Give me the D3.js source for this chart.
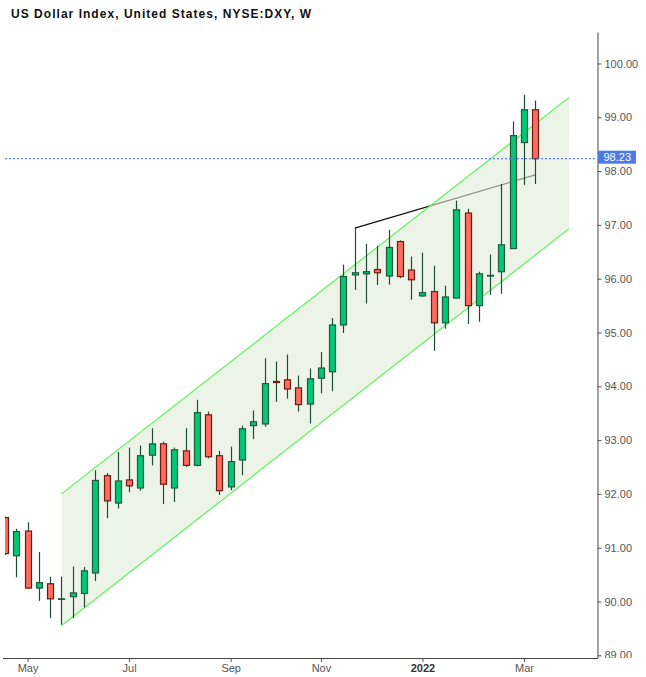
<!DOCTYPE html>
<html>
<head>
<meta charset="utf-8">
<script src="https://cdn.jsdelivr.net/npm/d3@7"></script>
<style>
  html, body { margin: 0; padding: 0; background: #fff; }
  svg { display: block; font-family: "Liberation Sans", Arial, sans-serif; }
</style>
</head>
<body>
<svg id="chart" width="646" height="677"></svg>
<script>
// ---- data (weekly candles) ----
const dates = [
  "2021-04-19","2021-04-26","2021-05-03","2021-05-10","2021-05-17","2021-05-24","2021-05-31","2021-06-07",
  "2021-06-14","2021-06-21","2021-06-28","2021-07-05","2021-07-12","2021-07-19","2021-07-26","2021-08-02",
  "2021-08-09","2021-08-16","2021-08-23","2021-08-30","2021-09-06","2021-09-13","2021-09-20","2021-09-27",
  "2021-10-04","2021-10-11","2021-10-18","2021-10-25","2021-11-01","2021-11-08","2021-11-15","2021-11-22",
  "2021-11-29","2021-12-06","2021-12-13","2021-12-20","2021-12-27","2022-01-03","2022-01-10","2022-01-17",
  "2022-01-24","2022-01-31","2022-02-07","2022-02-14","2022-02-21","2022-02-28","2022-03-07","2022-03-14"
];
const opens = [
  91.56, 90.85, 91.31, 90.25, 90.33, 90.05, 90.09, 90.15,
  90.53, 92.34, 91.83, 92.26, 92.11, 92.72, 92.93, 92.11,
  92.80, 92.53, 93.47, 92.71, 92.13, 92.63, 93.27, 93.30,
  94.09, 94.12, 93.97, 93.67, 94.15, 94.27, 95.14, 96.07,
  96.09, 96.17, 96.05, 96.69, 96.16, 95.68, 95.76, 95.18,
  95.64, 97.22, 95.50, 96.05, 96.13, 96.56, 98.53, 99.14
];
const highs = [
  91.58, 91.35, 91.47, 90.92, 90.46, 90.46, 90.65, 90.64,
  92.44, 92.39, 92.78, 92.86, 92.90, 93.22, 92.97, 92.86,
  93.22, 93.75, 93.53, 92.80, 92.88, 93.27, 93.55, 94.52,
  94.46, 94.59, 94.20, 94.33, 94.64, 95.27, 96.26, 96.94,
  96.65, 96.61, 96.91, 96.71, 96.41, 96.48, 96.24, 95.87,
  97.45, 97.30, 96.13, 96.45, 97.76, 98.92, 99.42, 99.31
];
const lows = [
  90.87, 90.45, 90.23, 90.01, 89.69, 89.57, 89.69, 89.89,
  90.38, 91.55, 91.73, 92.03, 92.06, 92.53, 91.81, 91.85,
  92.50, 92.51, 92.66, 91.98, 92.07, 92.35, 93.02, 93.25,
  93.71, 93.77, 93.53, 93.31, 93.87, 93.91, 94.99, 95.79,
  95.54, 95.88, 95.89, 96.01, 95.61, 95.66, 94.66, 95.07,
  95.64, 95.16, 95.20, 95.70, 95.72, 96.56, 97.74, 97.76
];
const closes = [
  90.89, 91.30, 90.25, 90.35, 90.05, 90.05, 90.16, 90.57,
  92.25, 91.87, 92.24, 92.15, 92.71, 92.93, 92.18, 92.82,
  92.53, 93.51, 92.69, 92.06, 92.60, 93.21, 93.34, 94.05,
  94.07, 93.95, 93.66, 94.14, 94.34, 95.14, 96.04, 96.11,
  96.13, 96.11, 96.58, 96.04, 95.98, 95.74, 95.18, 95.66,
  97.28, 95.50, 96.09, 96.06, 96.63, 98.66, 99.14, 98.23
];
const priceTicks = [89, 90, 91, 92, 93, 94, 95, 96, 97, 98, 99, 100];
const monthTickDates = ["2021-05-03","2021-07-05","2021-09-06","2021-11-01","2022-01-03","2022-03-07"];
const monthTickLabels = ["May","Jul","Sep","Nov","2022","Mar"];
// parallel channel (bar index, value)
const channelIdx = [5, 50];
const channelUpper = [92.0, 99.37];
const channelLower = [89.55, 96.93];
// trend line drawing (bar index, value)
const trendIdx = [31, 47];
const trendVal = [96.94, 97.93];
const lastPrice = 98.23;
const title = "US Dollar Index, United States, NYSE:DXY, W";

// ---- layout ----
const plotLeft = 5, plotRight = 597.5, plotTop = 32, plotBottom = 658;
const svg = d3.select("#chart");

const x = d3.scaleLinear().domain([0, dates.length - 1]).range([5.0, 535.3]);
const y = d3.scaleLinear().domain([88.95, 100.585]).range([plotBottom, plotTop]);

const defs = svg.append("defs");
defs.append("clipPath").attr("id", "plotClip")
  .append("rect").attr("x", plotLeft).attr("y", plotTop)
  .attr("width", plotRight - plotLeft).attr("height", plotBottom - plotTop);
// axis clip in the axis group's local coordinates
defs.append("clipPath").attr("id", "axisClip")
  .append("rect").attr("x", -2).attr("y", plotTop - 10)
  .attr("width", 60).attr("height", plotBottom - plotTop + 10);

const plot = svg.append("g").attr("clip-path", "url(#plotClip)");

// trend line (drawn below the channel fill, so it looks grey inside the channel)
plot.append("line")
  .attr("x1", x(trendIdx[0])).attr("y1", y(trendVal[0]))
  .attr("x2", x(trendIdx[1])).attr("y2", y(trendVal[1]))
  .attr("stroke", "#111").attr("stroke-width", 1.2);
plot.append("line")
  .attr("x1", x(trendIdx[0])).attr("y1", y(highs[trendIdx[0]]))
  .attr("x2", x(trendIdx[0])).attr("y2", y(trendVal[0]))
  .attr("stroke", "#111").attr("stroke-width", 1);

// channel fill
const poly = [
  [x(channelIdx[0]), y(channelUpper[0])],
  [x(channelIdx[1]), y(channelUpper[1])],
  [x(channelIdx[1]), y(channelLower[1])],
  [x(channelIdx[0]), y(channelLower[0])]
];
plot.append("path")
  .attr("d", d3.line()(poly) + "Z")
  .attr("fill", "rgb(221,236,215)").attr("fill-opacity", 0.6);

// channel borders
[channelUpper, channelLower].forEach(vals => {
  plot.append("line")
    .attr("x1", x(channelIdx[0])).attr("y1", y(vals[0]))
    .attr("x2", x(channelIdx[1])).attr("y2", y(vals[1]))
    .attr("stroke", "#5cf25c").attr("stroke-width", 1.2);
});

// candles
const candles = dates.map((d, i) => ({ d, i, o: opens[i], h: highs[i], l: lows[i], c: closes[i] }));
const bodyW = 6;
const cg = plot.append("g");
cg.selectAll("line.wick").data(candles).join("line")
  .attr("class", "wick")
  .attr("x1", d => Math.round(x(d.i)) + 0.5).attr("x2", d => Math.round(x(d.i)) + 0.5)
  .attr("y1", d => y(d.h)).attr("y2", d => y(d.l))
  .attr("stroke", "#1d4d34").attr("stroke-width", 1.2);
cg.selectAll("rect.body").data(candles).join("rect")
  .attr("class", "body")
  .attr("x", d => Math.round(x(d.i)) + 0.5 - bodyW / 2)
  .attr("width", bodyW)
  .attr("y", d => y(Math.max(d.o, d.c)))
  .attr("height", d => Math.max(0.6, Math.abs(y(d.o) - y(d.c))))
  .attr("fill", d => d.c >= d.o ? "#03c776" : "#ff6b60")
  .attr("stroke", d => d.c >= d.o ? "#1d5b3b" : "#6e1b12")
  .attr("stroke-width", 1.2);

// last price dashed line
plot.append("line")
  .attr("x1", plotLeft).attr("x2", plotRight)
  .attr("y1", y(lastPrice)).attr("y2", y(lastPrice))
  .attr("stroke", "#3a62e6").attr("stroke-width", 1)
  .attr("stroke-dasharray", "2,2");

// right axis
const yAxisG = svg.append("g")
  .attr("transform", `translate(${plotRight},0)`)
  .attr("clip-path", "url(#axisClip)")
  .call(d3.axisRight(y).tickValues(priceTicks).tickFormat(d3.format(".2f"))
        .tickSize(4).tickSizeOuter(0).tickPadding(3));
yAxisG.select(".domain").attr("stroke", "#444");
yAxisG.selectAll(".tick line").attr("stroke", "#555");
yAxisG.selectAll(".tick text").attr("fill", "#555").attr("font-size", 11)
  .attr("font-family", "Liberation Sans, Arial, sans-serif");

// last price label
const lbl = svg.append("g");
lbl.append("rect")
  .attr("x", plotRight + 0.5).attr("y", y(lastPrice) - 8)
  .attr("width", 38).attr("height", 13)
  .attr("fill", "#4f79e3");
lbl.append("text")
  .attr("x", plotRight + 6).attr("y", y(lastPrice) + 2.5)
  .attr("fill", "#fff").attr("font-size", 11)
  .text(d3.format(".2f")(lastPrice));

// bottom axis
svg.append("line")
  .attr("x1", plotLeft - 2).attr("x2", plotRight + 0.5)
  .attr("y1", plotBottom + 0.5).attr("y2", plotBottom + 0.5)
  .attr("stroke", "#444");
const xAxisG = svg.append("g")
  .attr("transform", `translate(0,${plotBottom})`)
  .call(d3.axisBottom(x)
        .tickValues(monthTickDates.map(d => dates.indexOf(d)))
        .tickFormat((d, i) => monthTickLabels[i])
        .tickSize(4).tickSizeOuter(0).tickPadding(2));
xAxisG.select(".domain").remove();
xAxisG.selectAll(".tick line").attr("stroke", "#555");
xAxisG.selectAll(".tick text")
  .attr("fill", (d, i) => monthTickLabels[i] === "2022" ? "#333" : "#555")
  .attr("font-weight", (d, i) => monthTickLabels[i] === "2022" ? "bold" : "normal")
  .attr("font-size", 11)
  .attr("font-family", "Liberation Sans, Arial, sans-serif");

// title
svg.append("text")
  .attr("x", 11).attr("y", 18.3)
  .attr("font-size", 12).attr("font-weight", "bold").attr("fill", "#111")
  .attr("textLength", 300).attr("lengthAdjust", "spacing")
  .text(title);
</script>
</body>
</html>
